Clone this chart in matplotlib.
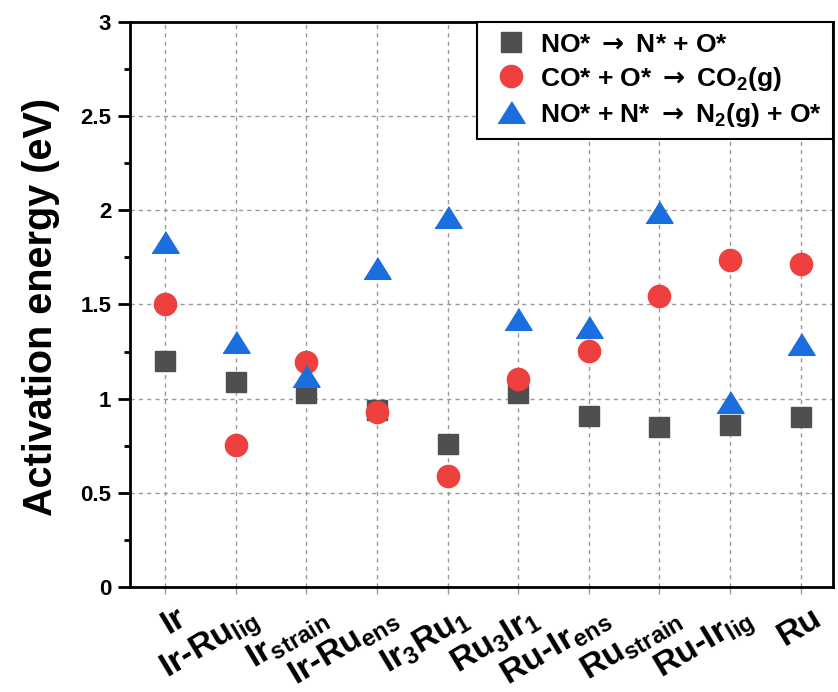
import matplotlib
matplotlib.use("Agg")
import matplotlib.pyplot as plt
import matplotlib.transforms as mtransforms
import numpy as np

plt.rcParams['font.family'] = ['Liberation Sans', 'DejaVu Sans']
plt.rcParams['font.weight'] = 'bold'
plt.rcParams['mathtext.fontset'] = 'custom'
plt.rcParams['mathtext.rm'] = 'Liberation Sans'
plt.rcParams['mathtext.bf'] = 'Liberation Sans:bold'
plt.rcParams['mathtext.it'] = 'Liberation Sans:italic'
plt.rcParams['mathtext.sf'] = 'DejaVu Sans'

categories = ['Ir', 'Ir-Ru$_{\\mathrm{lig}}$', 'Ir$_{\\mathrm{strain}}$', 'Ir-Ru$_{\\mathrm{ens}}$',
              'Ir$_{\\mathrm{3}}$Ru$_{\\mathrm{1}}$', 'Ru$_{\\mathrm{3}}$Ir$_{\\mathrm{1}}$',
              'Ru-Ir$_{\\mathrm{ens}}$', 'Ru$_{\\mathrm{strain}}$', 'Ru-Ir$_{\\mathrm{lig}}$', 'Ru']
no_dissoc = [1.20, 1.09, 1.03, 0.94, 0.76, 1.03, 0.91, 0.85, 0.86, 0.90]
co_ox = [1.50, 0.755, 1.195, 0.927, 0.59, 1.106, 1.255, 1.545, 1.736, 1.716]
n2_form = [1.83, 1.30, 1.12, 1.695, 1.965, 1.425, 1.38, 1.99, 0.98, 1.29]
series_labels = ['NO* $\\mathsf{\\rightarrow}$ N* + O*',
                 'CO* + O* $\\mathsf{\\rightarrow}$ CO$_{\\mathbf{2}}$(g)',
                 'NO* + N* $\\mathsf{\\rightarrow}$ N$_{\\mathbf{2}}$(g) + O*']
yticks = [0, 0.5, 1, 1.5, 2, 2.5, 3]
ytick_labels = ['0', '0.5', '1', '1.5', '2', '2.5', '3']

fig = plt.figure(figsize=(8.38, 6.92), dpi=100)
ax = fig.add_axes([0.155, 0.152, 0.839, 0.816])

x = np.arange(1, len(categories) + 1)
tri = [(-1, -0.8), (1, -0.8), (0, 0.8)]
ax.plot(x, no_dissoc, linestyle='none', marker='s', ms=15, color='#4f4f4f',
        mec='#4f4f4f', label=series_labels[0], zorder=3)
ax.plot(x, co_ox, linestyle='none', marker='o', ms=16, color='#ef4040',
        mec='#ef4040', label=series_labels[1], zorder=4)
ax.plot(x, n2_form, linestyle='none', marker=tri, ms=19.5, color='#1a6ede',
        mec='#1a6ede', label=series_labels[2], zorder=5)

ax.set_xlim(0.5, 10.46)
ax.set_ylim(0, 3)
ax.set_yticks(yticks)
ax.set_yticklabels(ytick_labels, fontsize=16, fontweight='bold')
ax.set_yticks(np.arange(0.25, 3, 0.5), minor=True)
ax.set_xticks(x)
ax.set_xticklabels([''] * len(categories))
offset = mtransforms.ScaledTranslation(0.11, -0.15, fig.dpi_scale_trans)
lbl_trans = ax.get_xaxis_transform() + offset
for xi, name in zip(x, categories):
    ax.text(xi, 0, name, transform=lbl_trans, rotation=31, ha='right', va='top',
            rotation_mode='anchor', fontsize=24.5, fontweight='bold', clip_on=False)
ax.tick_params(axis='y', which='major', direction='out', length=8.5, width=2, pad=5)
ax.tick_params(axis='y', which='minor', direction='out', length=4.5, width=2)
ax.tick_params(axis='x', which='major', direction='out', length=5, width=1, color='#999999')

ax.grid(True, which='major', linestyle=(0, (3, 3)), color='#999999', linewidth=1)
ax.set_axisbelow(True)
for s in ax.spines.values():
    s.set_linewidth(2)
    s.set_color('black')

ax.set_ylabel('Activation energy (eV)', fontsize=28.5, fontweight='bold')
ax.yaxis.set_label_coords(-0.1, 0.495)

leg = ax.legend(loc='upper right', borderaxespad=0, fontsize=19, frameon=True,
                fancybox=False, edgecolor='black', framealpha=1,
                handletextpad=0.2, borderpad=0.4, labelspacing=0.3, handlelength=1.8)
leg.get_frame().set_linewidth(1.5)
for t in leg.get_texts():
    t.set_fontweight('bold')

fig.savefig('out.png', dpi=100)
